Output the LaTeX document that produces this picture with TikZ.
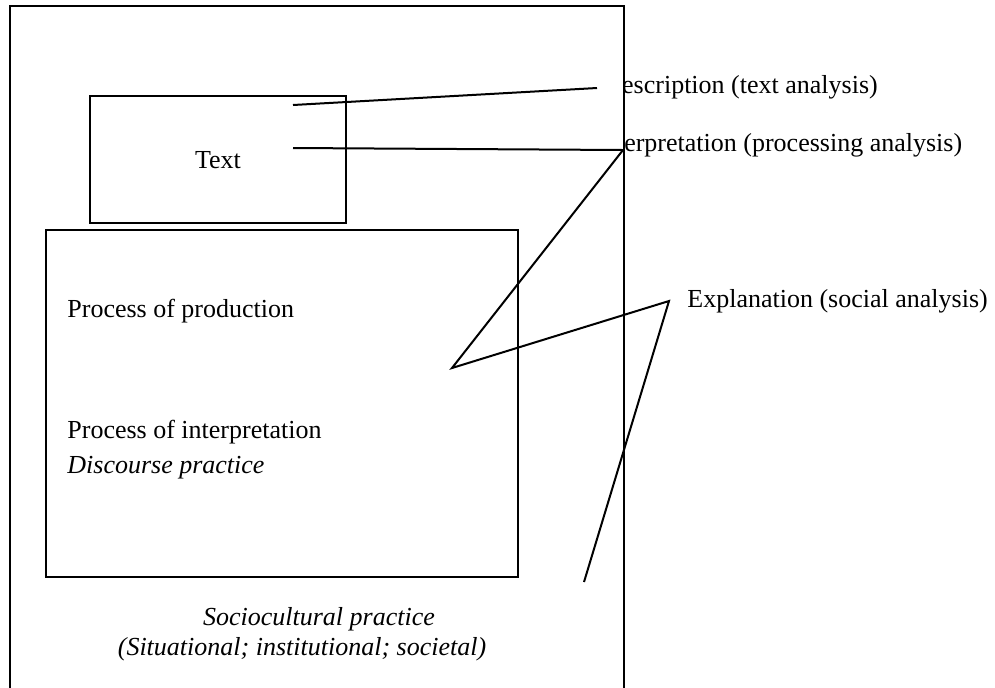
\documentclass[tikz,border=0pt]{standalone}
\usepackage{fontspec}
\setmainfont{Liberation Serif}
\begin{document}
\begin{tikzpicture}[x=0.5pt,y=-0.5pt,
  lbl/.style={inner sep=0pt,anchor=base west,font=\fontsize{13}{15.6}\selectfont},
  clbl/.style={inner sep=0pt,anchor=base,font=\fontsize{13}{15.6}\selectfont\itshape},
  boxline/.style={draw=black,line width=1pt},
  conn/.style={draw=black,line width=1pt,line join=miter}]
\useasboundingbox (0,0) rectangle (995,687);
\fill[white] (0,0) rectangle (995,687);
% right-hand labels (partly covered by the outer box)
\node[lbl] (desc) at (603,93) {Description (text analysis)};
\node[lbl] (interp) at (595,151) {Interpretation (processing analysis)};
\node[lbl] (expl) at (687,307) {Explanation (social analysis)};
% outer box
\begin{scope}
\clip (0,0) rectangle (995,687);
\path[boxline,fill=white] (10,6) rectangle (624,720);
\end{scope}
% text box
\draw[boxline] (90,96) rectangle (346,223);
\node[lbl,anchor=base] (text) at (218,168) {Text};
% discourse box
\draw[boxline] (46,230) rectangle (518,577);
\node[lbl] (prod) at (67,317) {Process of production};
\node[lbl] (interpr) at (67,438) {Process of interpretation};
\node[lbl,font=\fontsize{13}{15.6}\selectfont\itshape] (disc) at (67,473) {Discourse practice};
\node[clbl] (socio) at (319,625) {Sociocultural practice};
\node[clbl] (sit) at (302,655) {(Situational; institutional; societal)};
% connectors
\coordinate (d1) at (293,105);
\coordinate (d2) at (597,88);
\coordinate (i1) at (293,148);
\coordinate (i2) at (623,150);
\coordinate (p1) at (452,368);
\coordinate (e1) at (669,301);
\coordinate (e2) at (584,582);
\draw[conn] (d1) -- (d2);
\draw[conn] (i1) -- (i2) -- (p1) -- (e1) -- (e2);
\end{tikzpicture}
\end{document}
